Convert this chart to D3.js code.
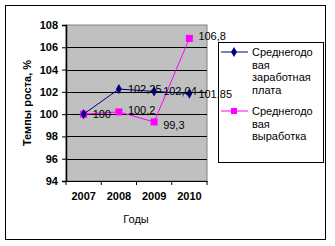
<!DOCTYPE html>
<html>
<head>
<meta charset="utf-8">
<script src="https://cdn.jsdelivr.net/npm/d3@7"></script>
<style>
  body { margin: 0; background: #fff; }
  text { font-family: "Liberation Sans", Arial, sans-serif; }
</style>
</head>
<body>
<svg id="chart" width="335" height="246"></svg>
<script>
// data
var years = ["2007", "2008", "2009", "2010"];
var wages = [100, 102.25, 102.04, 101.85];
var output = [100, 100.2, 99.3, 106.8];
var wageLabels = ["100", "102,25", "102,04", "101,85"];
var outputLabels = ["", "100,2", "99,3", "106,8"];
var yTicks = [94, 96, 98, 100, 102, 104, 106, 108];

var svg = d3.select("#chart");

// outer frame
svg.append("rect")
    .attr("x", 5.5).attr("y", 5.5)
    .attr("width", 320).attr("height", 234)
    .attr("fill", "#fff").attr("stroke", "#000").attr("stroke-width", 1);

var margin = { top: 25, left: 66 },
    width = 141,
    height = 156;

var x = d3.scaleBand().domain(years).range([0, width]);
var y = d3.scaleLinear().domain([94, 108]).range([height, 0]);

var g = svg.append("g")
    .attr("transform", "translate(" + margin.left + "," + margin.top + ")");

// plot area
g.append("rect")
    .attr("width", width).attr("height", height)
    .attr("fill", "#c0c0c0").attr("stroke", "#808080");

// grid lines
g.selectAll(".grid")
    .data(yTicks.filter(function (d) { return d > 94 && d < 108; }))
    .enter().append("line")
    .attr("x1", 0).attr("x2", width)
    .attr("y1", function (d) { return Math.round(y(d)) + 0.5; })
    .attr("y2", function (d) { return Math.round(y(d)) + 0.5; })
    .attr("stroke", "#000").attr("stroke-width", 1.2);

// Y axis
var yAxis = g.append("g")
    .call(d3.axisLeft(y).tickValues(yTicks).tickSize(4).tickPadding(4));
yAxis.select(".domain").attr("stroke-width", 1.5);
yAxis.selectAll("text").attr("font-size", 11).attr("font-weight", "bold").attr("fill", "#000");

// X axis with ticks between categories
var xAxis = g.append("g")
    .attr("transform", "translate(0," + height + ")")
    .call(d3.axisBottom(x).tickSize(0).tickPadding(11));
xAxis.select(".domain").attr("stroke-width", 1.2);
xAxis.selectAll("text").attr("font-size", 11).attr("font-weight", "bold").attr("fill", "#000");
xAxis.selectAll(".sep")
    .data(d3.range(years.length + 1))
    .enter().append("line")
    .attr("x1", function (i) { return i * x.step(); })
    .attr("x2", function (i) { return i * x.step(); })
    .attr("y1", 0).attr("y2", 4)
    .attr("stroke", "#000");

// axis titles
svg.append("text")
    .attr("transform", "translate(31,103) rotate(-90)")
    .attr("text-anchor", "middle")
    .attr("font-size", 11).attr("font-weight", "bold")
    .text("Темпы роста, %");
svg.append("text")
    .attr("x", 136).attr("y", 223)
    .attr("text-anchor", "middle")
    .attr("font-size", 11)
    .text("Годы");

var cx = function (d, i) { return x(years[i]) + x.bandwidth() / 2; };
var line = d3.line()
    .x(function (d, i) { return cx(d, i); })
    .y(function (d) { return y(d); });

// output series (pink)
g.append("path").attr("d", line(output))
    .attr("fill", "none").attr("stroke", "#ff00ff").attr("stroke-width", 1);
g.selectAll(".sq").data(output).enter().append("rect")
    .attr("x", function (d, i) { return cx(d, i) - 3.5; })
    .attr("y", function (d) { return y(d) - 3.5; })
    .attr("width", 7).attr("height", 7)
    .attr("fill", "#ff00ff");

// wages series (navy)
g.append("path").attr("d", line(wages))
    .attr("fill", "none").attr("stroke", "#000080").attr("stroke-width", 1);
g.selectAll(".dm").data(wages).enter().append("path")
    .attr("d", d3.symbol().type(d3.symbolDiamond).size(30))
    .attr("transform", function (d, i) { return "translate(" + cx(d, i) + "," + y(d) + ")"; })
    .attr("fill", "#000080");

// legend
var legend = svg.append("g");
legend.append("rect")
    .attr("x", 218.5).attr("y", 42.5)
    .attr("width", 105).attr("height", 120)
    .attr("fill", "#fff").attr("stroke", "#000");

var legendItems = [
    { color: "#000080", lines: ["Среднегодо", "вая", "заработная", "плата"], y: 52, marker: "diamond" },
    { color: "#ff00ff", lines: ["Среднегодо", "вая", "выработка"], y: 111, marker: "square" }
];
legendItems.forEach(function (item) {
    legend.append("line")
        .attr("x1", 221).attr("x2", 248)
        .attr("y1", item.y).attr("y2", item.y)
        .attr("stroke", item.color);
    if (item.marker === "diamond") {
        legend.append("path")
            .attr("d", d3.symbol().type(d3.symbolDiamond).size(30))
            .attr("transform", "translate(234," + item.y + ")")
            .attr("fill", item.color);
    } else {
        legend.append("rect")
            .attr("x", 231).attr("y", item.y - 3)
            .attr("width", 6).attr("height", 6)
            .attr("fill", item.color);
    }
    item.lines.forEach(function (t, k) {
        legend.append("text")
            .attr("x", 252).attr("y", item.y + 4 + k * 12.5)
            .attr("font-size", 11)
            .text(t);
    });
});

// data labels, drawn last so they sit over the legend frame
var labels = svg.append("g")
    .attr("transform", "translate(" + margin.left + "," + margin.top + ")");
labels.selectAll(".wl").data(wages).enter().append("text")
    .attr("x", function (d, i) { return cx(d, i) + 9; })
    .attr("y", function (d) { return y(d) + 4; })
    .attr("font-size", 11)
    .text(function (d, i) { return wageLabels[i]; });
labels.selectAll(".ol").data(output).enter().append("text")
    .attr("x", function (d, i) { return cx(d, i) + 9; })
    .attr("y", function (d, i) { return y(d) + (i === 2 ? 7 : 2); })
    .attr("font-size", 11)
    .text(function (d, i) { return outputLabels[i]; });
</script>
</body>
</html>
